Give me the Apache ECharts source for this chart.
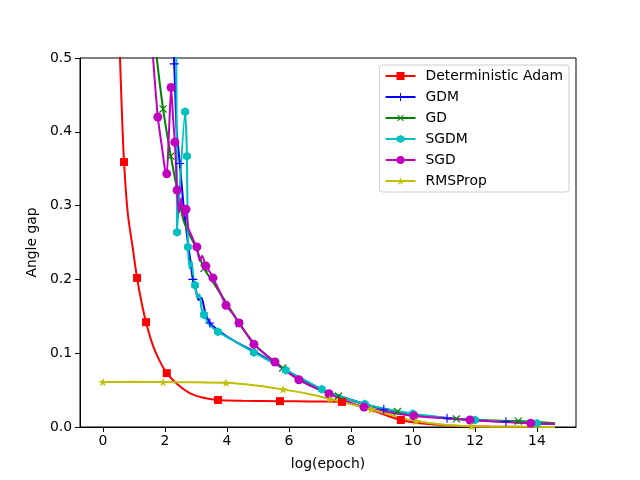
<!DOCTYPE html>
<html>
<head>
<meta charset="UTF-8">
<title>Angle gap</title>
<style>
  html, body { margin: 0; padding: 0; background: #fff; }
  #main { width: 640px; height: 480px; }
</style>
</head>
<body>
<div id="main"></div>
<script src="https://cdn.jsdelivr.net/npm/echarts@6/dist/echarts.min.js"></script>
<script>
// values (x = log(epoch), y = angle gap)
var adamX = [0.5, 0.55, 0.6, 0.68, 0.8, 0.97, 1.1, 1.25, 1.39, 1.6, 1.8, 2.06, 2.4, 2.8, 3.2, 3.71, 4.5, 5.71, 6.7, 7.71, 8.3, 9.0, 9.61, 10.5, 11.5, 12.5, 13.5, 14.58];
var adamY = [0.56, 0.5, 0.44, 0.359, 0.29, 0.24, 0.202, 0.168, 0.142, 0.112, 0.092, 0.073, 0.058, 0.046, 0.04, 0.0366, 0.0355, 0.035, 0.0345, 0.034, 0.028, 0.018, 0.0095, 0.004, 0.0015, 0.0006, 0.0002, 0.0001];
var adamMarks = [3, 6, 8, 11, 15, 17, 19, 22];

var gdmX = [2.27, 2.3, 2.38, 2.48, 2.6, 2.74, 2.82, 2.9, 3.0, 3.08, 3.18, 3.3, 3.45, 3.74, 4.3, 4.9, 5.9, 7.1, 8.0, 9.06, 10.0, 11.1, 12.0, 13.0, 14.58];
var gdmY = [0.53, 0.492, 0.40, 0.357, 0.30, 0.25, 0.225, 0.20, 0.185, 0.172, 0.175, 0.155, 0.141, 0.13, 0.115, 0.102, 0.077, 0.05, 0.037, 0.024, 0.017, 0.012, 0.0095, 0.007, 0.004];
var gdmMarks = [1, 3, 7, 12, 19, 21, 23];

var gdX = [1.68, 1.71, 1.94, 2.19, 2.4, 2.6, 2.8, 3.0, 3.26, 3.6, 4.0, 4.4, 4.9, 5.3, 5.8, 6.3, 6.9, 7.6, 8.5, 9.5, 10.4, 11.4, 12.4, 13.4, 14.58];
var gdY = [0.53, 0.51, 0.431, 0.367, 0.32, 0.28, 0.26, 0.243, 0.215, 0.193, 0.167, 0.14, 0.112, 0.096, 0.08, 0.065, 0.052, 0.042, 0.03, 0.021, 0.015, 0.011, 0.009, 0.008, 0.005];
var gdMarks = [2, 3, 8, 11, 14, 17, 19, 21, 23];

var sgdmX = [2.36, 2.38, 2.39, 2.65, 2.71, 2.74, 2.8, 2.86, 2.92, 2.97, 3.05, 3.12, 3.18, 3.26, 3.4, 3.71, 4.3, 4.87, 5.4, 5.9, 6.5, 7.06, 7.7, 8.45, 9.2, 10.0, 11.0, 12.0, 13.0, 14.0, 14.58];
var sgdmY = [0.53, 0.4, 0.264, 0.427, 0.367, 0.244, 0.215, 0.225, 0.2, 0.192, 0.175, 0.18, 0.16, 0.152, 0.14, 0.129, 0.115, 0.101, 0.089, 0.077, 0.064, 0.051, 0.041, 0.031, 0.024, 0.018, 0.013, 0.0095, 0.007, 0.005, 0.004];
var sgdmMarks = [2, 3, 4, 5, 9, 13, 15, 17, 19, 21, 23, 25, 27, 29];

var sgdX = [1.58, 1.6, 1.77, 1.9, 2.0, 2.06, 2.13, 2.2, 2.26, 2.32, 2.36, 2.39, 2.45, 2.52, 2.6, 2.68, 2.75, 2.85, 2.95, 3.03, 3.12, 3.2, 3.32, 3.45, 3.55, 3.75, 3.97, 4.2, 4.39, 4.65, 4.87, 5.2, 5.55, 5.9, 6.32, 6.8, 7.29, 7.8, 8.42, 9.2, 10.03, 11.0, 11.84, 12.8, 13.8, 14.58];
var sgdY = [0.53, 0.51, 0.42, 0.38, 0.35, 0.343, 0.40, 0.46, 0.42, 0.386, 0.35, 0.321, 0.29, 0.31, 0.285, 0.295, 0.27, 0.26, 0.25, 0.244, 0.225, 0.232, 0.218, 0.21, 0.202, 0.185, 0.165, 0.153, 0.141, 0.125, 0.112, 0.1, 0.088, 0.076, 0.064, 0.054, 0.045, 0.036, 0.027, 0.02, 0.015, 0.012, 0.0095, 0.007, 0.005, 0.004];
var sgdMarks = [2, 5, 7, 9, 11, 15, 19, 22, 24, 26, 28, 30, 32, 34, 36, 38, 40, 42, 44];

var rmsX = [0, 1, 1.94, 3, 3.97, 5, 5.81, 6.6, 7.32, 8, 8.65, 9.4, 10.1, 11, 11.9, 13, 14.58];
var rmsY = [0.061, 0.0612, 0.061, 0.0605, 0.06, 0.056, 0.051, 0.045, 0.038, 0.031, 0.024, 0.015, 0.008, 0.003, 0.001, 0.0003, 0.0001];
var rmsMarks = [0, 2, 4, 6, 8, 10, 12, 14];

var xTicks = [0, 2, 4, 6, 8, 10, 12, 14];

var FONT = 'DejaVu Sans';
var plusPath = 'path://M-0.12,-1H0.12V-0.12H1V0.12H0.12V1H-0.12V0.12H-1V-0.12H-0.12Z';
var hexPath = 'path://M0,-1L0.866,-0.5L0.866,0.5L0,1L-0.866,0.5L-0.866,-0.5Z';
var starPath = 'path://M0,-1L0.2245,-0.309L0.951,-0.309L0.363,0.118L0.588,0.809L0,0.382L-0.588,0.809L-0.363,0.118L-0.951,-0.309L-0.2245,-0.309Z';

// points without a marker get symbol 'none'
function build(xs, ys, marks) {
    return xs.map(function (x, i) {
        if (marks.indexOf(i) >= 0) return [x, ys[i]];
        return { value: [x, ys[i]], symbol: 'none' };
    });
}

function series(name, xs, ys, marks, color, symbol, size, extra) {
    var s = {
        name: name,
        type: 'line',
        data: build(xs, ys, marks),
        symbol: symbol,
        symbolSize: size,
        symbolKeepAspect: true,
        showAllSymbol: true,
        smooth: 0.2,
        lineStyle: { color: color, width: 2 },
        itemStyle: { color: color, borderWidth: 0 },
        emphasis: { disabled: true }
    };
    for (var k in extra) s[k] = extra[k];
    return s;
}

var chart = echarts.init(document.getElementById('main'));

chart.setOption({
    animation: false,
    textStyle: { fontFamily: FONT },
    grid: {
        left: 80, right: 64, top: 58, bottom: 53,
        show: true, borderColor: '#000', borderWidth: 1
    },
    legend: {
        orient: 'vertical',
        right: 71,
        top: 65,
        itemWidth: 30,
        itemHeight: 10,
        itemGap: 7,
        padding: [4, 6, 4, 5],
        backgroundColor: 'rgba(255,255,255,0.8)',
        borderColor: '#cccccc',
        borderWidth: 1,
        borderRadius: 3,
        textStyle: { fontFamily: FONT, fontSize: 13.9, lineHeight: 14, color: '#000', padding: [0, 0, 0, 5] },
        data: ['Deterministic Adam', 'GDM', 'GD', 'SGDM', 'SGD', 'RMSProp']
    },
    xAxis: {
        type: 'value',
        min: -0.74,
        max: 15.26,
        name: 'log(epoch)',
        nameLocation: 'middle',
        nameGap: 30,
        nameTextStyle: { fontFamily: FONT, fontSize: 13.9, color: '#000' },
        axisLine: { onZero: false, lineStyle: { color: '#000', width: 1 } },
        axisTick: { show: true, length: 5, lineStyle: { color: '#000' }, customValues: xTicks },
        axisLabel: { fontFamily: FONT, fontSize: 13.9, color: '#000', margin: 7, customValues: xTicks },
        splitLine: { show: false }
    },
    yAxis: {
        type: 'value',
        min: 0,
        max: 0.5,
        interval: 0.1,
        name: 'Angle gap',
        nameLocation: 'middle',
        nameGap: 38,
        nameTextStyle: { fontFamily: FONT, fontSize: 13.9, color: '#000' },
        axisLine: { show: true, onZero: false, lineStyle: { color: '#000', width: 1 } },
        axisTick: { show: true, length: 5, lineStyle: { color: '#000' } },
        axisLabel: {
            fontFamily: FONT, fontSize: 13.9, color: '#000', margin: 8,
            formatter: function (v) { return v.toFixed(1); }
        },
        splitLine: { show: false }
    },
    series: [
        series('Deterministic Adam', adamX, adamY, adamMarks, '#ff0000', 'rect', 8, { smooth: 0.3 }),
        series('GDM', gdmX, gdmY, gdmMarks, '#0000ff', plusPath, 9, {}),
        series('GD', gdX, gdY, gdMarks, '#008000', plusPath, 10, { symbolRotate: 45 }),
        series('SGDM', sgdmX, sgdmY, sgdmMarks, '#00bfbf', hexPath, 9, {}),
        series('SGD', sgdX, sgdY, sgdMarks, '#bf00bf', 'circle', 9, {}),
        series('RMSProp', rmsX, rmsY, rmsMarks, '#bfbf00', starPath, 9, { smooth: 0.3 })
    ]
});
</script>
</body>
</html>
